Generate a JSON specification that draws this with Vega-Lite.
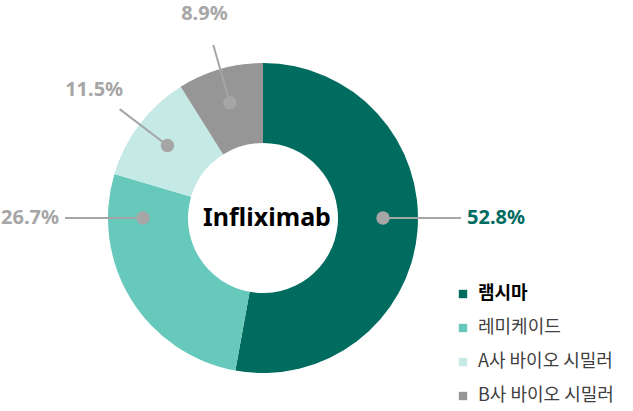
{
  "$schema": "https://vega.github.io/schema/vega-lite/v6.json",
  "width": 310,
  "height": 310,
  "autosize": {"type": "none"},
  "padding": {"left": 108, "top": 63, "right": 215, "bottom": 38},
  "background": "white",
  "config": {"view": {"stroke": null}, "font": "Noto Sans"},
  "data": {
    "values": [
      {"cat": "램시마", "v": 52.8, "idx": 0},
      {"cat": "레미케이드", "v": 26.7, "idx": 1},
      {"cat": "A사 바이오 시밀러", "v": 11.5, "idx": 2},
      {"cat": "B사 바이오 시밀러", "v": 8.9, "idx": 3}
    ]
  },
  "transform": [
    {"window": [{"op": "sum", "field": "v", "as": "cum"}], "sort": [{"field": "idx"}], "frame": [null, 0]},
    {"joinaggregate": [{"op": "sum", "field": "v", "as": "total"}]},
    {"calculate": "(datum.cum - datum.v) / datum.total * 360", "as": "a0"},
    {"calculate": "datum.cum / datum.total * 360", "as": "a1"},
    {"calculate": "(datum.a0 <= 90 && datum.a1 >= 90) ? 90 : ((datum.a0 <= 270 && datum.a1 >= 270) ? 270 : (datum.a0 + datum.a1) / 2)", "as": "la"},
    {"calculate": "datum.la == 90 ? 'R' : (datum.la == 270 ? 'L' : 'C')", "as": "side"},
    {"calculate": "datum.la * PI / 180", "as": "rad"},
    {"calculate": "120 * sin(datum.rad)", "as": "dx"},
    {"calculate": "120 * cos(datum.rad)", "as": "dy"},
    {"calculate": "(datum.side == 'C' ? 180 : 198) * sin(datum.rad)", "as": "ex"},
    {"calculate": "(datum.side == 'C' ? 180 : 198) * cos(datum.rad)", "as": "ey"},
    {"calculate": "(datum.side == 'C' ? 212 : 204) * sin(datum.rad)", "as": "lx"},
    {"calculate": "(datum.side == 'C' ? 212 : 204) * cos(datum.rad)", "as": "ly"},
    {"calculate": "format(datum.v, '.1f') + '%'", "as": "lab"}
  ],
  "layer": [
    {
      "mark": {"type": "arc", "innerRadius": 75, "outerRadius": 155, "strokeWidth": 0},
      "encoding": {
        "theta": {"field": "v", "type": "quantitative", "stack": true},
        "order": {"field": "idx", "type": "quantitative"},
        "color": {
          "field": "cat",
          "type": "nominal",
          "sort": ["램시마", "레미케이드", "A사 바이오 시밀러", "B사 바이오 시밀러"],
          "scale": {
            "domain": ["램시마", "레미케이드", "A사 바이오 시밀러", "B사 바이오 시밀러"],
            "range": ["#006B5F", "#66C9BB", "#C5E9E4", "#969696"]
          },
          "legend": {
            "title": null,
            "orient": "none",
            "legendX": 346,
            "legendY": 222,
            "symbolType": "square",
            "symbolSize": 70,
            "symbolStrokeWidth": 0,
            "labelFont": "Noto Sans CJK KR",
            "labelFontSize": 18,
            "labelFontWeight": {"expr": "datum.label === '램시마' ? 'bold' : 'normal'"},
            "labelColor": {"expr": "datum.label === '램시마' ? '#000000' : '#404040'"},
            "labelOffset": 6,
            "rowPadding": 16
          }
        }
      }
    },
    {
      "mark": {"type": "rule", "color": "#A6A6A6", "strokeWidth": 2},
      "encoding": {
        "x": {"field": "dx", "type": "quantitative", "scale": {"domain": [-155, 155], "nice": false, "zero": false}, "axis": null},
        "y": {"field": "dy", "type": "quantitative", "scale": {"domain": [-155, 155], "nice": false, "zero": false}, "axis": null},
        "x2": {"field": "ex"},
        "y2": {"field": "ey"}
      }
    },
    {
      "mark": {"type": "point", "shape": "circle", "filled": true, "color": "#A6A6A6", "opacity": 1, "size": 180},
      "encoding": {
        "x": {"field": "dx", "type": "quantitative"},
        "y": {"field": "dy", "type": "quantitative"}
      }
    },
    {
      "transform": [{"filter": "datum.side == 'R'"}],
      "mark": {"type": "text", "align": "left", "baseline": "middle", "fontSize": 20, "fontWeight": "bold", "font": "Noto Sans"},
      "encoding": {
        "x": {"field": "lx", "type": "quantitative"},
        "y": {"field": "ly", "type": "quantitative"},
        "text": {"field": "lab"},
        "color": {"condition": {"test": "datum.idx === 0", "value": "#006B5F"}, "value": "#A6A6A6"}
      }
    },
    {
      "transform": [{"filter": "datum.side == 'L'"}],
      "mark": {"type": "text", "align": "right", "baseline": "middle", "fontSize": 20, "fontWeight": "bold", "font": "Noto Sans"},
      "encoding": {
        "x": {"field": "lx", "type": "quantitative"},
        "y": {"field": "ly", "type": "quantitative"},
        "text": {"field": "lab"},
        "color": {"condition": {"test": "datum.idx === 0", "value": "#006B5F"}, "value": "#A6A6A6"}
      }
    },
    {
      "transform": [{"filter": "datum.side == 'C'"}],
      "mark": {"type": "text", "align": "center", "baseline": "middle", "fontSize": 20, "fontWeight": "bold", "font": "Noto Sans"},
      "encoding": {
        "x": {"field": "lx", "type": "quantitative"},
        "y": {"field": "ly", "type": "quantitative"},
        "text": {"field": "lab"},
        "color": {"condition": {"test": "datum.idx === 0", "value": "#006B5F"}, "value": "#A6A6A6"}
      }
    },
    {
      "data": {"values": [{"t": "Infliximab"}]},
      "mark": {"type": "text", "align": "center", "baseline": "middle", "fontSize": 25, "fontWeight": "bold", "font": "Noto Sans", "color": "#000000", "dx": 4},
      "encoding": {"text": {"field": "t"}}
    }
  ]
}
